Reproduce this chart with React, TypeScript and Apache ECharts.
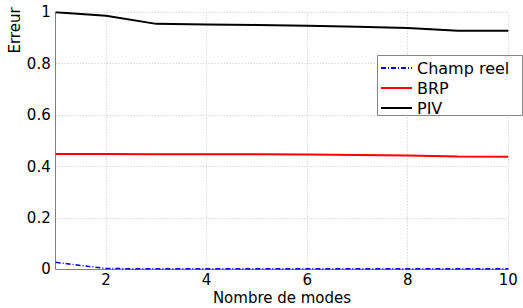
import React, { useEffect, useRef } from "react";
import * as echarts from "echarts";

const modes = [1, 2, 3, 4, 5, 6, 7, 8, 9, 10];
const champReel = [0.027, 0.003, 0.002, 0.002, 0.002, 0.002, 0.002, 0.002, 0.002, 0.002];
const brp = [0.449, 0.449, 0.448, 0.448, 0.448, 0.447, 0.445, 0.443, 0.439, 0.438];
const piv = [1.0, 0.987, 0.955, 0.953, 0.951, 0.948, 0.944, 0.939, 0.928, 0.928];
const seriesNames = ["Champ reel", "BRP", "PIV"];
const xTitle = "Nombre de modes";
const yTitle = "Erreur";

const FONT = "DejaVu Sans";

export default function App() {
  const ref = useRef<HTMLDivElement>(null);
  useEffect(() => {
    if (!ref.current) return;
    const chart = echarts.init(ref.current, undefined, { renderer: "svg" });
    const pair = (ys: number[]) => modes.map((x, i) => [x, ys[i]]);
    chart.setOption({
      animation: false,
      backgroundColor: "#ffffff",
      grid: { left: 55.7, right: 14.7, top: 12.3, bottom: 38.7, outerBoundsMode: "none", containLabel: false },
      xAxis: {
        type: "value",
        min: 1,
        max: 10,
        splitNumber: 5,
        axisLine: { show: true, lineStyle: { color: "#808080", width: 1 } },
        axisTick: { show: false },
        axisLabel: {
          showMinLabel: false,
          margin: 3,
          fontFamily: FONT,
          fontSize: 15,
          lineHeight: 15,
          color: "#000",
        },
        splitLine: { show: true, lineStyle: { type: [1, 2], color: "#c8c8c8", width: 1 } },
      },
      yAxis: {
        type: "value",
        min: 0,
        max: 1,
        interval: 0.2,
        axisLine: { show: true, lineStyle: { color: "#808080", width: 1 } },
        axisTick: { show: false },
        axisLabel: { margin: 5, fontFamily: FONT, fontSize: 15, color: "#000" },
        splitLine: { show: true, lineStyle: { type: [1, 2], color: "#c8c8c8", width: 1 } },
      },
      legend: {
        orient: "vertical",
        left: 380,
        top: 60,
        itemWidth: 31,
        itemHeight: 14,
        itemGap: 4,
        padding: 0,
        z: 10,
        itemStyle: { opacity: 0 },
        textStyle: { fontFamily: FONT, fontSize: 16, color: "#000" },
        data: seriesNames,
      },
      graphic: [
        {
          type: "rect",
          z: 5,
          shape: { x: 377.5, y: 55.5, width: 145, height: 60 },
          style: { fill: "#ffffff", stroke: "#888888", lineWidth: 1 },
        },
        {
          type: "text",
          x: 15,
          y: 30.5,
          rotation: Math.PI / 2,
          style: {
            text: yTitle,
            fontFamily: FONT,
            fontSize: 15,
            fill: "#000",
            align: "center",
            verticalAlign: "middle",
          },
        },
        {
          type: "text",
          x: 282,
          y: 298,
          style: {
            text: xTitle,
            fontFamily: FONT,
            fontSize: 15,
            lineHeight: 16,
            fill: "#000",
            align: "center",
            verticalAlign: "middle",
          },
        },
      ],
      series: [
        {
          name: seriesNames[0],
          type: "line",
          data: pair(champReel),
          symbol: "none",
          lineStyle: { color: "#0000ff", width: 1.5, type: [5, 2, 1, 2] },
          itemStyle: { color: "#0000ff" },
        },
        {
          name: seriesNames[1],
          type: "line",
          data: pair(brp),
          symbol: "none",
          lineStyle: { color: "#ff0000", width: 2 },
          itemStyle: { color: "#ff0000" },
        },
        {
          name: seriesNames[2],
          type: "line",
          data: pair(piv),
          symbol: "none",
          lineStyle: { color: "#000000", width: 2 },
          itemStyle: { color: "#000000" },
        },
      ],
    });
    return () => chart.dispose();
  }, []);
  return (
    <div
      ref={ref}
      style={{ position: "absolute", left: 0, top: 0, width: 523, height: 308 }}
    />
  );
}
